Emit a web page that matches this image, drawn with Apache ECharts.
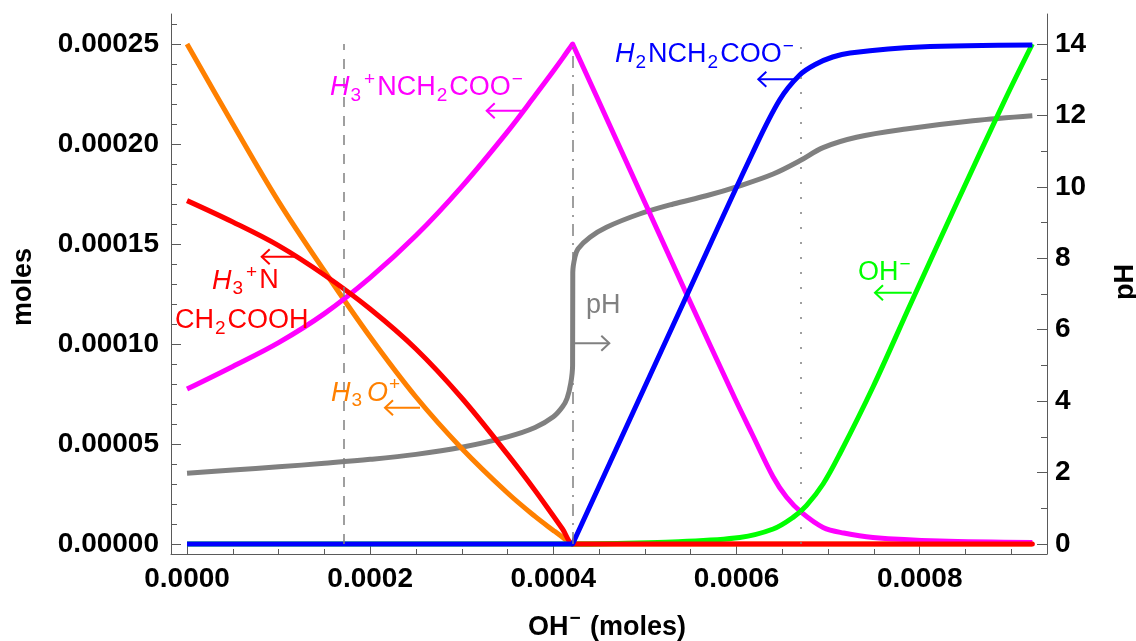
<!DOCTYPE html>
<html><head><meta charset="utf-8">
<script src="https://cdn.jsdelivr.net/npm/echarts@6/dist/echarts.min.js"></script>
<style>html,body{margin:0;padding:0;background:#fff}#c{width:1136px;height:641px}</style>
</head><body><div id="c"></div>
<script>
// ---------- data ----------
// x: OH- added (moles); y: moles of each species, or pH
const h3oX = [0, 0.00005, 0.0001, 0.00015, 0.0002, 0.00025, 0.0003, 0.00035, 0.00038, 0.0004, 0.00041, 0.000421, 0.0004215, 0.000923];
const h3oY = [0.00025, 0.00021, 0.0001712, 0.0001365, 0.0001035, 0.0000735, 0.0000478, 0.0000255, 0.0000138, 0.0000068, 0.0000034, 0, 0, 0];

const cationX = [0, 0.00005, 0.0001, 0.00015, 0.0002, 0.00025, 0.0003, 0.00035, 0.00038, 0.0004, 0.00041, 0.000421, 0.0004215, 0.000923];
const cationY = [0.0001717, 0.000161, 0.0001492, 0.0001345, 0.0001175, 0.0000975, 0.000073, 0.0000448, 0.0000268, 0.000014, 0.0000075, 0, 0, 0];

const zwitX = [0, 0.00005, 0.0001, 0.00015, 0.0002, 0.00025, 0.0003, 0.00035, 0.00038, 0.0004, 0.00041, 0.0004205, 0.000421, 0.0004215, 0.000447, 0.0005454, 0.000598, 0.000617, 0.00064, 0.0006545, 0.0006709, 0.0006945, 0.000717, 0.000749, 0.000822, 0.000923];
const zwitY = [0.0000775, 0.0000888, 0.0001007, 0.0001152, 0.0001332, 0.0001542, 0.0001787, 0.0002062, 0.0002242, 0.0002365, 0.0002428, 0.0002497, 0.00025, 0.0002495, 0.000224, 0.000125, 0.000073, 0.000055, 0.0000335, 0.0000235, 0.0000158, 0.0000083, 0.0000055, 0.0000033, 0.0000015, 0.0000008];

const anionX = [0, 0.00042, 0.000421, 0.0004215, 0.0005454, 0.000617, 0.000647, 0.000669, 0.000687, 0.000705, 0.000724, 0.0008, 0.000923];
const anionY = [0, 0, 0, 0.0000005, 0.000124, 0.000195, 0.000222, 0.0002345, 0.00024, 0.0002435, 0.0002455, 0.0002485, 0.0002495];

const ohX = [0, 0.000421, 0.00048, 0.00053, 0.0006035, 0.00064, 0.0006617, 0.0006763, 0.0006945, 0.0007127, 0.000749, 0.000791, 0.00084, 0.000893, 0.000923];
const ohY = [0, 0, 0.0000004, 0.000001, 0.0000033, 0.0000075, 0.0000133, 0.0000192, 0.00003, 0.000045, 0.0000785, 0.000121, 0.00017, 0.000222, 0.00025];

const pHX = [0, 0.00005, 0.0001, 0.00015, 0.0002, 0.00025, 0.0003, 0.00035, 0.00038, 0.0004, 0.00041, 0.000415, 0.000419, 0.000421, 0.0004212, 0.0004235, 0.000427, 0.00044, 0.000458, 0.000494, 0.000531, 0.000567, 0.0006035, 0.00064, 0.000669, 0.0006945, 0.000731, 0.000785, 0.000858, 0.000923];
const pHY = [1.98, 2.07, 2.16, 2.26, 2.37, 2.51, 2.71, 3.0, 3.26, 3.56, 3.84, 4.08, 4.5, 5.0, 7.6, 8.03, 8.27, 8.59, 8.87, 9.24, 9.52, 9.75, 10.03, 10.36, 10.73, 11.1, 11.39, 11.62, 11.85, 11.99];

// vertical reference lines (x positions)
const refLinesX = [0.0001714, 0.000421, 0.00067];

// ticks
const xMajorTicks = [0, 0.0002, 0.0004, 0.0006, 0.0008];
const xTickLabels = ['0.0000', '0.0002', '0.0004', '0.0006', '0.0008'];
const xMinorTicks = [0.00005, 0.0001, 0.00015, 0.00025, 0.0003, 0.00035, 0.00045, 0.0005, 0.00055, 0.00065, 0.0007, 0.00075, 0.00085, 0.0009];
const molesTicks = [0, 0.00005, 0.0001, 0.00015, 0.0002, 0.00025];
const molesTickLabels = ['0.00000', '0.00005', '0.00010', '0.00015', '0.00020', '0.00025'];
const molesMinorTicks = [0.00001, 0.00002, 0.00003, 0.00004, 0.00006, 0.00007, 0.00008, 0.00009, 0.00011, 0.00012, 0.00013, 0.00014, 0.00016, 0.00017, 0.00018, 0.00019, 0.00021, 0.00022, 0.00023, 0.00024, 0.00026];
const pHTicks = [0, 2, 4, 6, 8, 10, 12, 14];
const pHTickLabels = ['0', '2', '4', '6', '8', '10', '12', '14'];
const pHMinorTicks = [1, 3, 5, 7, 9, 11, 13];

// ---------- chart ----------
const FONT = '"Liberation Sans", Arial, Helvetica, sans-serif';
const AX = '#5a5a5a';
const ORANGE = '#FF8000', RED = '#FF0000', MAGENTA = '#FF00FF', BLUE = '#0000FF', GREEN = '#00FF00', GRAY = '#808080';

function pairs(xs, ys) { return xs.map((x, i) => [x, ys[i]]); }
function lookup(ticks, labels) {
  return function (v) {
    let best = 0, d = Infinity;
    ticks.forEach((t, i) => { const e = Math.abs(t - v); if (e < d) { d = e; best = i; } });
    return labels[best];
  };
}
function lineSeries(name, xs, ys, color, yIdx) {
  return {
    type: 'line', name, data: pairs(xs, ys), xAxisIndex: 0, yAxisIndex: yIdx,
    smooth: 0.35, showSymbol: false, symbol: 'none', clip: false,
    lineStyle: { color, width: 5, cap: 'butt', join: 'round' }, itemStyle: { color },
    animation: false, silent: true
  };
}
const tickLab = { fontFamily: FONT, fontSize: 28, fontWeight: 'bold', color: '#000' };

const xCommon = { type: 'value', min: -0.0000175, max: 0.000939, position: 'bottom', splitLine: { show: false } };
const molesCommon = { type: 'value', min: -0.000005, max: 0.000265, position: 'left', splitLine: { show: false } };
const pHCommon = { type: 'value', min: -0.28, max: 14.84, position: 'right', splitLine: { show: false } };

function richStyles(color, size, weight) {
  const small = Math.round(size * 0.71);
  const base = { fontFamily: FONT, fontSize: size, fontWeight: weight, fill: color, lineHeight: 35 };
  const sm = { fontFamily: FONT, fontSize: small, fontWeight: weight, fill: color, lineHeight: 19, padding: [0, 2, 0, 1] };
  return {
    n: Object.assign({}, base),
    i: Object.assign({ fontStyle: 'italic' }, base),
    sub: Object.assign({ verticalAlign: 'bottom' }, sm),
    subg: Object.assign({}, sm, { verticalAlign: 'bottom', padding: [0, 5, 0, 1] }),
    sup: Object.assign({ verticalAlign: 'top' }, sm)
  };
}
function richText(x, y, text, color, size, weight, align, rotation) {
  return {
    type: 'text', x, y, rotation: rotation || 0, z: 100, silent: true,
    style: {
      text, rich: richStyles(color, size, weight), fill: color,
      fontFamily: FONT, fontSize: size, fontWeight: weight,
      align: align || 'left', verticalAlign: 'middle'
    }
  };
}
function arrow(x1, x2, y, color) {
  const dir = x2 < x1 ? 1 : -1;
  return [
    { type: 'line', z: 100, silent: true, shape: { x1, y1: y, x2, y2: y }, style: { stroke: color, lineWidth: 2 } },
    { type: 'polyline', z: 100, silent: true, shape: { points: [[x2 + dir * 8, y - 7.5], [x2, y], [x2 + dir * 8, y + 7.5]] }, style: { stroke: color, lineWidth: 2, fill: null } }
  ];
}

const graphics = [
  richText(330, 87.7, '{i|H}{sub|3}{sup|+}{n|NCH}{sub|2}{n|COO}{sup|−}', MAGENTA, 27, 'normal'),
  richText(615, 54.3, '{i|H}{sub|2}{n|NCH}{sub|2}{n|COO}{sup|−}', BLUE, 27, 'normal'),
  richText(212, 281, '{i|H}{sub|3}{sup|+}{n|N}', RED, 27, 'normal'),
  richText(175, 320.3, '{n|CH}{sub|2}{n|COOH}', RED, 27, 'normal'),
  richText(331, 393, '{i|H}{subg|3}{i|O}{sup|+}', ORANGE, 27, 'normal'),
  richText(586, 306, '{n|pH}', GRAY, 27, 'normal'),
  richText(858, 272.7, '{n|OH}{sup|−}', GREEN, 27, 'normal'),
  ...arrow(521.7, 486.7, 110.7, MAGENTA),
  ...arrow(796.7, 758.3, 79.3, BLUE),
  ...arrow(298.3, 261.7, 256.7, RED),
  ...arrow(420, 385, 407.7, ORANGE),
  ...arrow(575, 609.3, 343.3, GRAY),
  ...arrow(911.7, 875, 292.7, GREEN),
  // axis titles
  richText(24, 287, '{n|moles}', '#000', 27, 'bold', 'center', Math.PI / 2),
  richText(1125.5, 282, '{n|pH}', '#000', 27, 'bold', 'center', Math.PI / 2),
  richText(607, 627.2, '{n|OH}{sup|−}{n| (moles)}', '#000', 27, 'bold', 'center')
];

const option = {
  animation: false,
  backgroundColor: '#fff',
  grid: { left: 171, right: 89, top: 14, bottom: 87, containLabel: false },
  xAxis: [
    Object.assign({}, xCommon, {
      axisLine: { show: true, onZero: false, lineStyle: { color: AX, width: 1 } },
      axisTick: { show: true, inside: true, length: 9, customValues: xMajorTicks, lineStyle: { color: AX, width: 1 } },
      axisLabel: Object.assign({ show: true, customValues: xMajorTicks, formatter: lookup(xMajorTicks, xTickLabels), margin: 11 }, tickLab)
    }),
    Object.assign({}, xCommon, {
      axisLine: { show: false, onZero: false },
      axisTick: { show: true, inside: true, length: 5, customValues: xMinorTicks, lineStyle: { color: AX, width: 1 } },
      axisLabel: { show: false }
    })
  ],
  yAxis: [
    Object.assign({}, molesCommon, {
      axisLine: { show: true, onZero: false, lineStyle: { color: AX, width: 1 } },
      axisTick: { show: true, inside: true, length: 10, customValues: molesTicks, lineStyle: { color: AX, width: 1 } },
      axisLabel: Object.assign({ show: true, customValues: molesTicks, formatter: lookup(molesTicks, molesTickLabels), margin: 12 }, tickLab)
    }),
    Object.assign({}, molesCommon, {
      axisLine: { show: false, onZero: false },
      axisTick: { show: true, inside: true, length: 6, customValues: molesMinorTicks, lineStyle: { color: AX, width: 1 } },
      axisLabel: { show: false }
    }),
    Object.assign({}, pHCommon, {
      axisLine: { show: true, onZero: false, lineStyle: { color: AX, width: 1 } },
      axisTick: { show: true, inside: true, length: 10, customValues: pHTicks, lineStyle: { color: AX, width: 1 } },
      axisLabel: Object.assign({ show: true, customValues: pHTicks, formatter: lookup(pHTicks, pHTickLabels), margin: 8 }, tickLab)
    }),
    Object.assign({}, pHCommon, {
      axisLine: { show: false, onZero: false },
      axisTick: { show: true, inside: true, length: 6, customValues: pHMinorTicks, lineStyle: { color: AX, width: 1 } },
      axisLabel: { show: false }
    })
  ],
  series: [
    {
      type: 'line', name: 'ref', data: [], xAxisIndex: 0, yAxisIndex: 0, silent: true, animation: false,
      markLine: {
        silent: true, symbol: ['none', 'none'], label: { show: false }, animation: false,
        data: [
          [{ coord: [refLinesX[0], 0], lineStyle: { color: GRAY, width: 1.5, type: [10, 9] } }, { coord: [refLinesX[0], 0.00025] }],
          [{ coord: [refLinesX[1], 0], lineStyle: { color: GRAY, width: 1.5, type: [12, 7, 2, 7] } }, { coord: [refLinesX[1], 0.00025] }],
          [{ coord: [refLinesX[2], 0], lineStyle: { color: GRAY, width: 1.5, type: [2, 13] } }, { coord: [refLinesX[2], 0.00025] }]
        ]
      }
    },
    lineSeries('pH', pHX, pHY, GRAY, 2),
    lineSeries('H3O+', h3oX, h3oY, ORANGE, 0),
    lineSeries('H3+NCH2COO-', zwitX, zwitY, MAGENTA, 0),
    lineSeries('OH-', ohX, ohY, GREEN, 0),
    lineSeries('H3+NCH2COOH', cationX, cationY, RED, 0),
    lineSeries('H2NCH2COO-', anionX, anionY, BLUE, 0)
  ],
  graphic: graphics
};

const chart = echarts.init(document.getElementById('c'), null, { renderer: 'canvas' });
chart.setOption(option);
</script>
</body></html>
